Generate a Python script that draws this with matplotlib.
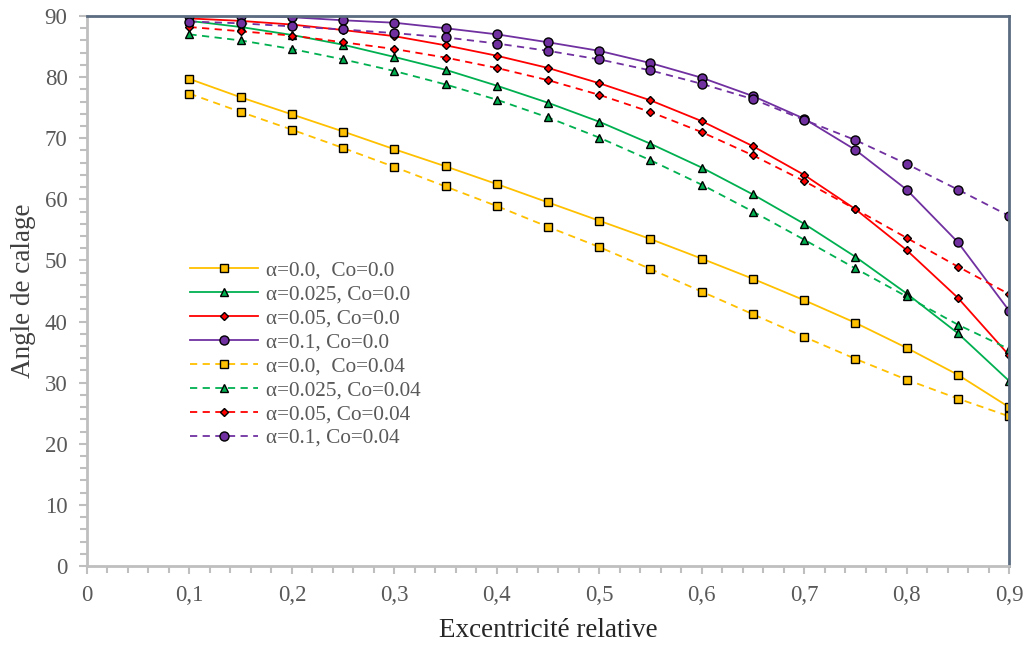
import numpy as np
import matplotlib
matplotlib.use("Agg")
from matplotlib import pyplot as plt
from matplotlib.ticker import MultipleLocator, FuncFormatter

plt.rcParams['font.family'] = ['Liberation Serif', 'DejaVu Serif']

# excentricité relative
ecc = [0.1, 0.15, 0.2, 0.25, 0.3, 0.35, 0.4, 0.45, 0.5,
       0.55, 0.6, 0.65, 0.7, 0.75, 0.8, 0.85, 0.9]

# Co = 0.0
a000_c0 = [79.7, 76.7, 73.9, 71.1, 68.2, 65.4, 62.5, 59.5, 56.5,
           53.5, 50.3, 47.0, 43.5, 39.8, 35.7, 31.3, 26.0]
a025_c0 = [89.2, 88.2, 86.9, 85.3, 83.3, 81.2, 78.6, 75.8, 72.7,
           69.1, 65.2, 60.8, 56.0, 50.6, 44.6, 38.1, 30.3]
a050_c0 = [89.6, 89.2, 88.6, 87.7, 86.7, 85.2, 83.5, 81.5, 79.0,
           76.2, 72.8, 68.7, 64.0, 58.4, 51.7, 43.9, 34.5]
a100_c0 = [90.0, 90.0, 89.8, 89.3, 88.9, 88.0, 87.0, 85.7, 84.3,
           82.3, 79.9, 76.9, 73.2, 68.1, 61.6, 53.0, 41.8]

# Co = 0.04
a000_c4 = [77.3, 74.3, 71.4, 68.4, 65.3, 62.1, 58.9, 55.5, 52.2,
           48.6, 44.9, 41.2, 37.5, 33.9, 30.5, 27.4, 24.5]
a025_c4 = [87.0, 86.0, 84.6, 82.9, 81.0, 78.8, 76.3, 73.4, 70.1,
           66.4, 62.4, 58.0, 53.4, 48.7, 44.1, 39.5, 35.5]
a050_c4 = [88.2, 87.5, 86.8, 85.7, 84.6, 83.2, 81.5, 79.5, 77.1,
           74.3, 71.0, 67.2, 63.0, 58.4, 53.7, 49.0, 44.5]
a100_c4 = [89.1, 88.8, 88.3, 87.8, 87.2, 86.5, 85.5, 84.3, 82.9,
           81.1, 78.9, 76.4, 73.0, 69.7, 65.8, 61.6, 57.3]

labels = ["α=0.0,  Co=0.0", "α=0.025, Co=0.0", "α=0.05, Co=0.0", "α=0.1, Co=0.0",
          "α=0.0,  Co=0.04", "α=0.025, Co=0.04", "α=0.05, Co=0.04", "α=0.1, Co=0.04"]
series = [a000_c0, a025_c0, a050_c0, a100_c0, a000_c4, a025_c4, a050_c4, a100_c4]

colors = ['#FFC000', '#00B050', '#FF0000', '#7030A0']
markers = ['s', '^', 'D', 'o']
msizes = [6, 5.5, 4, 6.5]

fig = plt.figure(figsize=(10.27, 6.45), dpi=100)
ax = fig.add_axes([87 / 1027, 79 / 645, 922 / 1027, 550 / 645])

for i, (y, lab) in enumerate(zip(series, labels)):
    k = i % 4
    ls = '-' if i < 4 else (0, (4, 3))
    ax.plot(ecc, y, color=colors[k], lw=1.3, ls=ls, marker=markers[k],
            ms=msizes[k], mfc=colors[k], mec='black', mew=1.0, label=lab)

ax.set_xlim(0, 0.9)
ax.set_ylim(0, 90)
ax.xaxis.set_major_locator(MultipleLocator(0.1))
ax.xaxis.set_minor_locator(MultipleLocator(0.02))
ax.yaxis.set_major_locator(MultipleLocator(10))
ax.yaxis.set_minor_locator(MultipleLocator(2))
ax.xaxis.set_major_formatter(FuncFormatter(lambda v, p: "0" if abs(v) < 1e-9 else ("%.1f" % v).replace('.', ',')))

for s in ['left', 'bottom']:
    ax.spines[s].set_color('#BFBFBF')
    ax.spines[s].set_linewidth(2)
for s in ['top', 'right']:
    ax.spines[s].set_color('#5B6B80')
    ax.spines[s].set_linewidth(2)

ax.tick_params(which='both', direction='out', color='#BFBFBF', width=1.5,
               labelcolor='#595959', labelsize=16.5)
ax.tick_params(which='major', length=6)
ax.tick_params(which='minor', length=5)
ax.tick_params(axis='x', pad=8)
ax.tick_params(axis='y', pad=8)

ax.set_xlabel("Excentricité relative", fontsize=19.5, color='#262626', labelpad=8)
ax.set_ylabel("Angle de calage", fontsize=19.5, color='#404040', labelpad=6)

leg = ax.legend(loc='upper left', bbox_to_anchor=(0.1117, 0.555), frameon=False,
                fontsize=15.3, labelcolor='#595959', handlelength=3.2,
                handletextpad=0.38, labelspacing=0.19, borderpad=0.0,
                borderaxespad=0.0)

fig.savefig("out.png", dpi=100)
